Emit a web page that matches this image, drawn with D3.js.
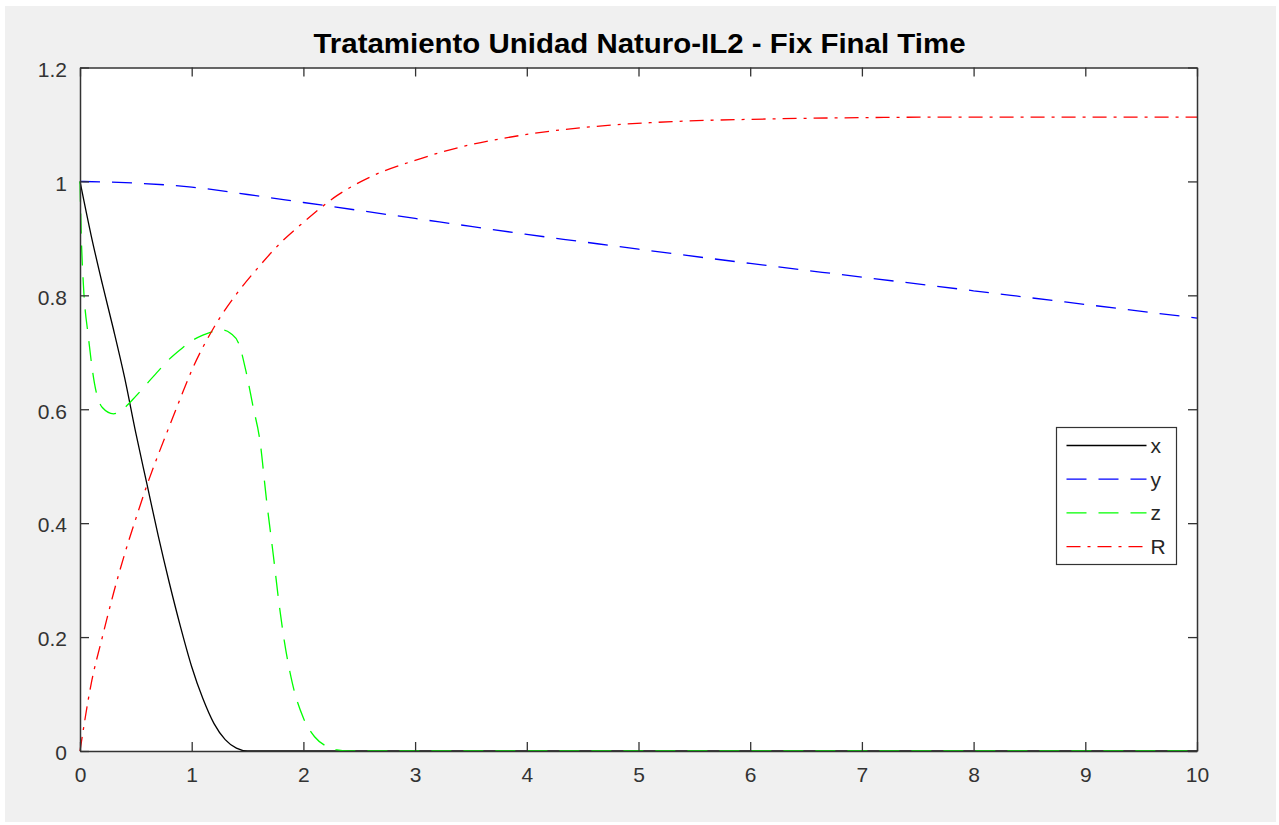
<!DOCTYPE html>
<html lang="en">
<head>
    <meta charset="UTF-8">
    <title>Tratamiento Unidad Naturo-IL2</title>
    <script src="https://d3js.org/d3.v7.min.js"></script>
    <style>
        body { margin: 0; background: #fff; }
        text { font-family: "Liberation Sans", Arial, Helvetica, sans-serif; }
    </style>
</head>
<body>
<div id="chart"></div>

<script>
    // series (time, value)
    var xT = [0, 0.1, 0.2, 0.3, 0.4, 0.5, 0.6, 0.7, 0.8, 0.9, 1.0, 1.1, 1.2, 1.3, 1.4, 1.5, 1.6, 10];
    var xV = [1.0, 0.905, 0.82, 0.74, 0.655, 0.558, 0.468, 0.378, 0.295, 0.218, 0.148, 0.092, 0.048, 0.02, 0.005, 0.0, 0, 0];

    var yT = [0, 0.5, 1, 1.5, 2, 2.5, 3, 3.5, 4, 4.5, 5, 6, 7, 8, 9, 10];
    var yV = [1.0, 0.997, 0.99, 0.977, 0.963, 0.949, 0.935, 0.921, 0.907, 0.894, 0.881, 0.856, 0.832, 0.808, 0.784, 0.76];

    var zT = [0, 0.012, 0.03, 0.075, 0.13, 0.2, 0.3, 0.4, 0.5, 0.6, 0.7, 0.8, 0.9, 1.0, 1.1, 1.2, 1.28, 1.35, 1.42, 1.49, 1.55, 1.61, 1.67, 1.73, 1.78, 1.83, 1.9, 2.0, 2.1, 2.2, 2.3, 2.4, 10];
    var zV = [1.0, 0.9, 0.82, 0.727, 0.645, 0.603, 0.592, 0.603, 0.623, 0.645, 0.667, 0.688, 0.705, 0.72, 0.73, 0.737, 0.739, 0.733, 0.716, 0.663, 0.604, 0.546, 0.44, 0.345, 0.262, 0.192, 0.12, 0.058, 0.025, 0.009, 0.002, 0, 0];

    var rT = [0, 0.1, 0.2, 0.3, 0.4, 0.5, 0.6, 0.7, 0.8, 0.9, 1.0, 1.2, 1.4, 1.6, 1.8, 2.0, 2.3, 2.6, 3.0, 3.4, 3.8, 4.2, 4.7, 5.3, 6, 7, 8, 10];
    var rV = [0, 0.118, 0.2, 0.277, 0.346, 0.408, 0.467, 0.52, 0.57, 0.62, 0.668, 0.744, 0.802, 0.85, 0.893, 0.928, 0.975, 1.008, 1.037, 1.06, 1.076, 1.088, 1.098, 1.105, 1.109, 1.112, 1.113, 1.113];

    var xTicks = [0, 1, 2, 3, 4, 5, 6, 7, 8, 9, 10];
    var yTicks = [0, 0.2, 0.4, 0.6, 0.8, 1, 1.2];
    var names = ["x", "y", "z", "R"];
    var colors = ["#000000", "#0000ff", "#00ff00", "#ff0000"];
    var dashes = [null, "20,12", "20,12", "14,7,3,7"];

    var title = "Tratamiento Unidad Naturo-IL2 - Fix Final Time";

    var w = 1279, h = 825;
    // plot box (note: "top" is taken by window.top, so prefix these)
    var boxL = 80, boxR = 1197, boxT = 67.5, boxB = 751;

    var svg = d3.select("#chart")
                .append("svg")
                .attr("width", w)
                .attr("height", h);

    // grey figure background
    svg.append("rect")
       .attr("x", 5).attr("y", 6)
       .attr("width", 1271).attr("height", 816)
       .attr("fill", "#f0f0f0");

    svg.append("rect")
       .attr("x", boxL).attr("y", boxT)
       .attr("width", boxR - boxL).attr("height", boxB - boxT)
       .attr("fill", "#fff");

    var x = d3.scaleLinear().domain([0, 10]).range([boxL, boxR]);
    var y = d3.scaleLinear().domain([0, 1.2]).range([boxB, boxT]);

    var series = [
        { t: xT, v: xV },
        { t: yT, v: yV },
        { t: zT, v: zV },
        { t: rT, v: rV }
    ];

    var line = d3.line()
                 .x(function(d) { return x(d[0]); })
                 .y(function(d) { return y(d[1]); })
                 .curve(d3.curveMonotoneX);

    var plot = svg.append("g");
    series.forEach(function(s, i) {
        var pts = s.t.map(function(t, j) { return [t, s.v[j]]; });
        plot.append("path")
            .datum(pts)
            .attr("d", line)
            .attr("fill", "none")
            .attr("stroke", colors[i])
            .attr("stroke-width", 1.3)
            .attr("stroke-dasharray", dashes[i]);
    });

    // axes with inward ticks on all four sides
    function styleAxis(g) {
        g.select(".domain").attr("stroke", "#333").attr("stroke-width", 1.5);
        g.selectAll(".tick line").attr("stroke", "#333").attr("stroke-width", 1.3);
        g.selectAll(".tick text")
         .attr("fill", "#333")
         .style("font-size", "21px")
         .style("font-family", "'Liberation Sans', Arial, sans-serif");
    }

    svg.append("g")
       .attr("transform", "translate(0," + boxB + ")")
       .call(d3.axisBottom(x).tickValues(xTicks).tickSizeInner(-9).tickSizeOuter(0).tickPadding(16)
               .tickFormat(d3.format("d")))
       .call(styleAxis);

    svg.append("g")
       .attr("transform", "translate(0," + boxT + ")")
       .call(d3.axisTop(x).tickValues(xTicks).tickSizeInner(-9).tickSizeOuter(0).tickFormat(""))
       .call(styleAxis);

    svg.append("g")
       .attr("transform", "translate(" + boxL + ",0)")
       .call(d3.axisLeft(y).tickValues(yTicks).tickSizeInner(-9).tickSizeOuter(0).tickPadding(13)
               .tickFormat(function(d) { return String(+d.toFixed(1)); }))
       .call(styleAxis)
       .selectAll(".tick text").attr("dy", "0.42em");

    svg.append("g")
       .attr("transform", "translate(" + boxR + ",0)")
       .call(d3.axisRight(y).tickValues(yTicks).tickSizeInner(-9).tickSizeOuter(0).tickFormat(""))
       .call(styleAxis);

    svg.append("text")
       .attr("x", (boxL + boxR) / 2 + 1)
       .attr("y", 53)
       .attr("text-anchor", "middle")
       .style("font-size", "27px")
       .style("font-weight", "bold")
       .attr("textLength", 652)
       .attr("lengthAdjust", "spacingAndGlyphs")
       .attr("fill", "#000")
       .text(title);

    // legend
    var lg = svg.append("g").attr("transform", "translate(1056.5,427.5)");
    lg.append("rect")
      .attr("width", 120).attr("height", 137)
      .attr("fill", "#fff")
      .attr("stroke", "#333").attr("stroke-width", 1.2);

    var rows = lg.selectAll("g.row")
                 .data(names)
                 .enter()
                 .append("g")
                 .attr("class", "row")
                 .attr("transform", function(d, i) { return "translate(0," + (18 + i * 33.7) + ")"; });

    rows.append("line")
        .attr("x1", 10).attr("x2", 90)
        .attr("stroke", function(d, i) { return colors[i]; })
        .attr("stroke-width", 1.3)
        .attr("stroke-dasharray", function(d, i) { return dashes[i]; });

    rows.append("text")
        .attr("x", 94)
        .attr("dy", "0.36em")
        .attr("fill", "#262626")
        .style("font-size", "21px")
        .text(function(d) { return d; });
</script>
</body>
</html>
